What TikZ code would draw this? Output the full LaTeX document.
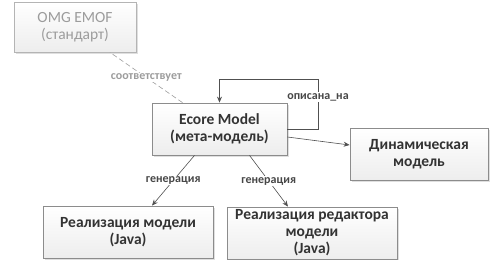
\documentclass[tikz,border=0pt]{standalone}
\usepackage{fontspec}
\setmainfont{Carlito}
\usetikzlibrary{arrows.meta,positioning,shadows}
\definecolor{BoxLine}{HTML}{8C8C8C}
\definecolor{BoxText}{HTML}{333333}
\definecolor{StdLine}{HTML}{B4B4B4}
\definecolor{StdText}{HTML}{9C9C9C}
\definecolor{EdgeGray}{HTML}{505050}
\tikzset{
  MB/.style={rectangle,draw=BoxLine,thick,align=center,
             top color=white,bottom color=gray!14,
             drop shadow={shadow xshift=1.5pt,shadow yshift=-1.5pt,opacity=0.25},
             text=BoxText,font=\fontsize{15.5}{17}\selectfont\bfseries,inner sep=2pt},
  nStd/.style={MB,draw=StdLine,text=StdText,font=\fontsize{15.5}{17}\selectfont},
  arr/.style={-{Stealth[length=6pt,width=5pt]},EdgeGray,semithick},
  lbl/.style={font=\fontsize{12}{14}\selectfont\bfseries,text=BoxText!90,fill=white,inner sep=1pt}
}
\begin{document}
\begin{tikzpicture}[x=1pt,y=-1pt]
  \useasboundingbox (0,0) rectangle (499,260);
  \node[nStd,minimum width=122pt,minimum height=50pt] (omg) at (75,27) {OMG EMOF\\(стандарт)};
  \node[MB,minimum width=135pt,minimum height=52pt] (ecore) at (219.5,129) {Ecore Model\\(мета-модель)};
  \node[MB,minimum width=138pt,minimum height=52pt] (dyn) at (419,154) {Динамическая\\модель};
  \node[MB,minimum width=170pt,minimum height=52pt] (impl) at (128,232) {Реализация модели\\(Java)};
  \node[MB,minimum width=170pt,minimum height=52pt] (edit) at (312,233) {Реализация редактора\\модели\\(Java)};
  \coordinate (loop) at (318,79);

  \draw[dashed,StdText,semithick,dash pattern=on 5pt off 3pt] ([xshift=-37pt]ecore.north) -- node[lbl,text=StdText] {соответствует} ([xshift=35pt]omg.south);
  \draw[arr] (ecore.east) -- (loop |- ecore.east) -- node[lbl,pos=0.64] {описана\_на} (loop) -- (ecore.north |- loop) -- (ecore.north);
  \draw[arr] ([yshift=-8pt]ecore.east) -- ([yshift=9pt]dyn.west);
  \draw[arr] ([xshift=-25pt]ecore.south) -- node[lbl] {генерация} ([xshift=24pt]impl.north);
  \draw[arr] ([xshift=30pt]ecore.south) -- node[lbl] {генерация} ([xshift=-24pt]edit.north);
\end{tikzpicture}
\end{document}
